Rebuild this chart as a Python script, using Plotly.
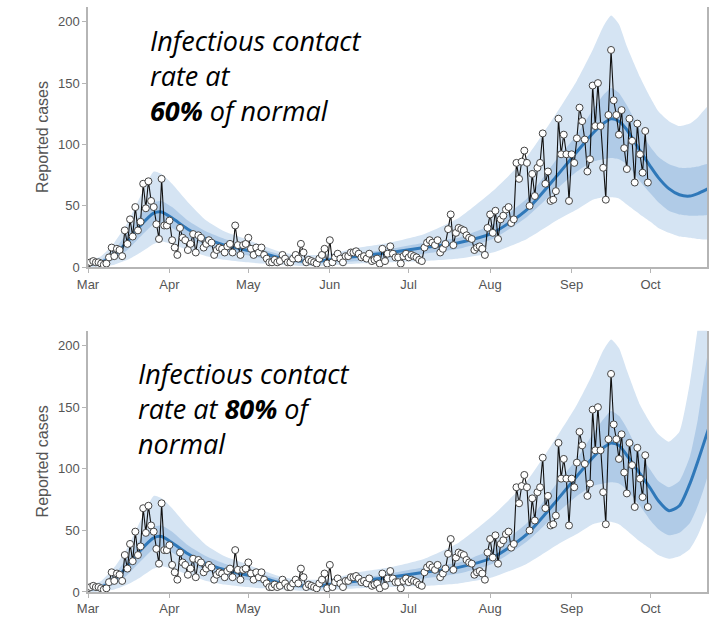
import pandas as pd
import plotly.graph_objects as go

# ---------------- data ----------------
start_date = "2020-03-01"

# daily reported cases from 1 March (one value per day)
reported_cases = [
    3, 4, 5, 4, 4, 3, 2, 3, 8, 16, 9, 15, 14, 9, 30, 19, 39, 25, 49, 30,
    37, 68, 48, 70, 54, 49, 35, 23, 72, 34, 34, 38, 22, 16, 10, 32, 24, 22, 14, 19,
    27, 12, 26, 24, 16, 19, 22, 20, 10, 14, 16, 15, 12, 17, 19, 12, 34, 18, 10, 18,
    19, 24, 15, 10, 16, 12, 16, 10, 7, 4, 4, 6, 4, 5, 10, 7, 4, 4, 7, 10,
    7, 19, 12, 4, 6, 5, 4, 3, 7, 10, 15, 3, 22, 4, 8, 11, 7, 4, 9, 9,
    12, 12, 13, 11, 8, 9, 7, 11, 5, 6, 7, 3, 15, 5, 11, 17, 11, 8, 8, 3,
    9, 11, 8, 10, 9, 8, 6, 5, 16, 20, 22, 20, 18, 22, 12, 15, 19, 31, 43, 18,
    28, 32, 31, 30, 26, 24, 23, 14, 16, 17, 15, 10, 32, 43, 28, 46, 23, 39, 42, 47,
    49, 36, 39, 85, 72, 86, 95, 85, 50, 76, 58, 81, 85, 109, 68, 78, 54, 55, 62, 121,
    92, 108, 92, 54, 92, 85, 105, 130, 119, 104, 78, 88, 148, 115, 150, 115, 81, 55, 124, 177,
    136, 124, 108, 128, 97, 80, 121, 103, 69, 117, 92, 77, 111, 69,
]

# model days (offset from 1 March) at which the projection is read
band_days = [0, 5, 10, 15, 20, 25, 28, 32, 38, 45, 52, 60, 67, 74, 81, 88, 95, 103,
             115, 128, 141, 154, 167, 179, 186, 192, 196, 199, 202, 205, 210, 214,
             217, 221, 225, 229, 232, 236]

# scenario: contact rate at 60% of normal
med_60 = [2, 4, 10, 21, 34, 44, 45, 40, 31, 23, 18, 14, 11, 7, 5, 5, 7, 9,
          12, 16, 20, 28, 47, 76, 94, 109, 117, 121, 119, 112, 95, 82,
          73, 64, 59, 58, 60, 64]
lo50_60 = [1, 2, 6, 14, 25, 35, 36, 32, 24, 17, 13, 10, 7, 5, 3, 3, 4, 5,
           8, 11, 15, 23, 41, 65, 78, 86, 88, 89, 88, 84, 70, 60,
           53, 46, 43, 42, 42, 43]
hi50_60 = [3, 6, 14, 28, 43, 53, 54, 49, 38, 29, 23, 18, 14, 10, 7, 7, 9, 11,
           15, 20, 24, 35, 56, 90, 108, 128, 140, 146, 142, 132, 112, 98,
           90, 84, 81, 81, 82, 84]
lo95_60 = [0, 0.5, 2, 6, 12, 19, 21, 19, 14, 9, 6, 4, 3, 2, 1, 1, 2, 3,
           4, 5, 7, 12, 23, 39, 47, 55, 57, 57, 56, 51, 43, 37,
           32, 28, 25, 24, 23, 23]
hi95_60 = [5, 9, 20, 36, 58, 78, 76, 68, 53, 38, 29, 23, 17, 12, 10, 10, 12, 16,
           20, 27, 40, 62, 90, 128, 152, 177, 196, 205, 198, 180, 155, 138,
           127, 119, 115, 117, 122, 131]

# scenario: contact rate at 80% of normal
med_80 = [2, 4, 10, 21, 34, 44, 45, 40, 31, 23, 18, 14, 11, 7, 5, 5, 7, 9,
          12, 16, 20, 28, 47, 76, 94, 109, 117, 121, 119, 111, 96, 84,
          74, 66, 70, 88, 106, 132]
lo50_80 = [1, 2, 6, 14, 25, 35, 36, 32, 24, 17, 13, 10, 7, 5, 3, 3, 4, 5,
           8, 11, 15, 23, 41, 65, 78, 86, 88, 89, 88, 83, 70, 58,
           51, 46, 48, 56, 70, 97]
hi50_80 = [3, 6, 14, 28, 43, 53, 54, 49, 38, 29, 23, 18, 14, 10, 7, 7, 9, 11,
           15, 20, 24, 35, 56, 90, 108, 128, 140, 147, 143, 133, 112, 99,
           90, 85, 90, 110, 140, 195]
lo95_80 = [0, 0.5, 2, 6, 12, 19, 21, 19, 14, 9, 6, 4, 3, 2, 1, 1, 2, 3,
           4, 5, 7, 12, 23, 39, 47, 55, 57, 57, 55, 50, 41, 35,
           30, 27, 29, 35, 46, 70]
hi95_80 = [5, 9, 20, 36, 58, 78, 76, 68, 53, 38, 29, 23, 17, 12, 10, 10, 12, 16,
           20, 27, 40, 62, 90, 128, 152, 177, 196, 205, 198, 180, 152, 137,
           128, 122, 130, 170, 215, 290]

y_ticks = [0, 50, 100, 150, 200]

# ---------------- styling ----------------
LIGHT = "#d5e4f3"
DARK = "#b0cbe7"
MED = "#2f78b9"
AXIS = "#b5b5b5"
TXT = "#555555"

obs_dates = pd.date_range(start_date, periods=len(reported_cases), freq="D")
bdates = list(pd.to_datetime(start_date) + pd.to_timedelta(band_days, unit="D"))

fig = go.Figure()


def add_panel(xa, ya, med, lo50, hi50, lo95, hi95):
    poly_x = bdates + bdates[::-1]
    fig.add_trace(go.Scatter(
        x=poly_x, y=list(hi95) + list(lo95)[::-1], fill="toself",
        fillcolor=LIGHT, line=dict(width=0, shape="spline", smoothing=0.5),
        mode="lines", hoverinfo="skip", showlegend=False, xaxis=xa, yaxis=ya))
    fig.add_trace(go.Scatter(
        x=poly_x, y=list(hi50) + list(lo50)[::-1], fill="toself",
        fillcolor=DARK, line=dict(width=0, shape="spline", smoothing=0.5),
        mode="lines", hoverinfo="skip", showlegend=False, xaxis=xa, yaxis=ya))
    fig.add_trace(go.Scatter(
        x=bdates, y=med, mode="lines",
        line=dict(color=MED, width=3, shape="spline", smoothing=0.7),
        showlegend=False, xaxis=xa, yaxis=ya))
    fig.add_trace(go.Scatter(
        x=obs_dates, y=reported_cases, mode="lines+markers",
        line=dict(color="#111111", width=1.1),
        marker=dict(size=7, color="white", line=dict(color="#444444", width=1)),
        showlegend=False, xaxis=xa, yaxis=ya))


add_panel("x", "y", med_60, lo50_60, hi50_60, lo95_60, hi95_60)
add_panel("x2", "y2", med_80, lo50_80, hi50_80, lo95_80, hi95_80)

xaxis_common = dict(
    range=["2020-03-01", "2020-10-22 12:00"], tickformat="%b", dtick="M1",
    tick0="2020-03-01", ticks="outside", ticklen=4, tickwidth=1, tickcolor=AXIS,
    showline=True, linecolor=AXIS, linewidth=1.5, showgrid=False, zeroline=False,
    tickfont=dict(family="Liberation Sans, Arial", size=13, color=TXT),
)
yaxis_common = dict(
    range=[0, 212], tickvals=y_ticks, ticks="outside", ticklen=4, tickwidth=1,
    tickcolor=AXIS, showline=True, mirror=True, linecolor=AXIS, linewidth=1.5,
    showgrid=False, zeroline=False,
    tickfont=dict(family="Liberation Sans, Arial", size=13, color=TXT),
    title=dict(text="Reported cases", standoff=5,
               font=dict(family="Liberation Sans, Arial", size=16, color=TXT)),
)

fig.update_layout(
    width=718, height=623,
    margin=dict(l=88, r=11, t=7, b=27),
    paper_bgcolor="white", plot_bgcolor="white",
    xaxis=dict(domain=[0, 1], anchor="y", **xaxis_common),
    yaxis=dict(domain=[0.5552, 1.0], anchor="x", **yaxis_common),
    xaxis2=dict(domain=[0, 1], anchor="y2", **xaxis_common),
    yaxis2=dict(domain=[0.0, 0.4465], anchor="x2", **yaxis_common),
)

ann_font = dict(family="Open Sans", size=27, color="black", style="italic")
top_text = "Infectious contact<br>rate at<br><b>60%</b> of normal"
bot_text = "Infectious contact<br>rate at <b>80%</b> of<br>normal"

fig.add_annotation(text=top_text, xref="x domain", yref="y domain", x=0.097, y=0.737,
                   xanchor="left", yanchor="middle", align="left", showarrow=False,
                   font=ann_font)
fig.add_annotation(text=bot_text, xref="x2 domain", yref="y2 domain", x=0.0775, y=0.703,
                   xanchor="left", yanchor="middle", align="left", showarrow=False,
                   font=ann_font)

fig.write_html("out.html")
